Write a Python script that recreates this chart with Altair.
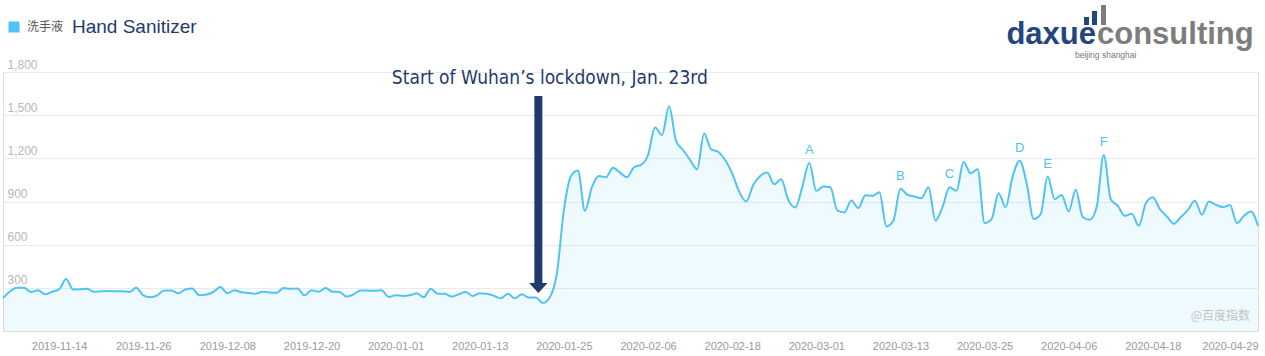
import altair as alt
import pandas as pd

# ---------------- data ----------------
start_date = "2019-11-06"
search_index = [
    228, 275, 300, 300, 271, 284, 255, 273, 289, 361,
    289, 290, 293, 273, 277, 278, 276, 277, 271, 300,
    248, 235, 248, 282, 282, 262, 289, 296, 248, 253,
    271, 305, 262, 284, 270, 264, 259, 273, 268, 266,
    298, 293, 296, 248, 284, 273, 298, 273, 271, 239,
    255, 282, 281, 280, 284, 237, 248, 244, 248, 262,
    235, 293, 259, 259, 239, 255, 271, 244, 262, 259,
    245, 228, 259, 228, 255, 232, 232, 195, 235, 400,
    840, 1075, 1115, 835, 1000, 1078, 1068, 1135, 1101, 1068,
    1138, 1154, 1223, 1415, 1362, 1562, 1322, 1258, 1188, 1124,
    1373, 1262, 1246, 1188, 1096, 969, 900, 1015, 1078, 1101,
    1020, 1055, 911, 858, 1000, 1170, 974, 1004, 999, 838,
    824, 907, 854, 944, 939, 965, 727, 768, 988, 946,
    935, 923, 999, 768, 861, 999, 974, 1175, 1096, 1124,
    750, 778, 958, 861, 1073, 1184, 1027, 778, 812, 1073,
    916, 946, 831, 981, 792, 773, 865, 1223, 916, 870,
    801, 815, 731, 888, 930, 847, 796, 745, 792, 842,
    905, 808, 900, 877, 861, 875, 750, 801, 831, 731,
]
dates = pd.date_range(start_date, periods=len(search_index)).strftime("%Y-%m-%d").tolist()
series_name = "洗手液"

x_tick_labels = [
    "2019-11-14", "2019-11-26", "2019-12-08", "2019-12-20", "2020-01-01",
    "2020-01-13", "2020-01-25", "2020-02-06", "2020-02-18", "2020-03-01",
    "2020-03-13", "2020-03-25", "2020-04-06", "2020-04-18", "2020-04-29",
]
y_ticks = [300, 600, 900, 1200, 1500, 1800]

peak_letters = ["A", "B", "C", "D", "E", "F"]
peak_dates = ["2020-02-29", "2020-03-13", "2020-03-20", "2020-03-30", "2020-04-03", "2020-04-11"]
peak_values = [search_index[dates.index(d)] for d in peak_dates]

annotation_text = "Start of Wuhan\u2019s lockdown, Jan. 23rd"
annotation_date = "2020-01-23"
annotation_value = 1717
arrow_date = "2020-01-21"
arrow_top = 1633
arrow_bottom = 327
arrow_head = 299

title_text = "Hand Sanitizer"
watermark_text = "@百度指数"
logo_left = "daxue"
logo_right = "consulting"
logo_sub = "beijing shanghai"

# ---------------- styles ----------------
LINE = "#4fc3f3"
NAVY = "#1f3a6b"
LOGO_BLUE = "#24457e"
GREY_LOGO = "#7d7d7d"

df = pd.DataFrame({"date": dates, "value": search_index, "series": series_name})
peaks = pd.DataFrame({"date": peak_dates, "value": peak_values, "letter": peak_letters})
arrow = pd.DataFrame({"date": [arrow_date], "top": [arrow_top], "bottom": [arrow_bottom], "head": [arrow_head]})
note = pd.DataFrame({"date": [annotation_date], "value": [annotation_value], "text": [annotation_text]})

x_enc = alt.X(
    "date:O",
    scale=alt.Scale(type="point", domain=dates, padding=0),
    axis=alt.Axis(
        values=x_tick_labels, title=None, labelAngle=0, domain=False, ticks=False,
        grid=False, labelColor="#9a9a9a", labelFontSize=11, labelPadding=9,
        labelFont="Liberation Sans", labelOverlap=False, labelBound=False,
    ),
)
y_scale = alt.Scale(domain=[0, 1800], nice=False, zero=True)
y_enc = alt.Y(
    "value:Q",
    scale=y_scale,
    axis=alt.Axis(
        values=y_ticks, title=None, orient="left", labelAlign="left",
        labelBaseline="bottom", labelPadding=-4, tickSize=0, ticks=False,
        domain=False, grid=True, gridColor="#e6ebf0", gridWidth=1,
        labelColor="#b8b8b8", labelFontSize=12, labelFont="Liberation Sans",
        format=",d", labelOffset=-1,
    ),
)

area = alt.Chart(df).mark_area(interpolate="monotone", fillOpacity=0.09).encode(
    x=x_enc,
    y=y_enc,
    fill=alt.Fill(
        "series:N",
        scale=alt.Scale(domain=[series_name], range=[LINE]),
        legend=alt.Legend(
            orient="none", legendX=5, legendY=-51, title=None, symbolType="square",
            symbolSize=121, symbolStrokeWidth=0, symbolOpacity=1, padding=0,
            labelFont="Noto Sans CJK SC", labelFontSize=12, labelColor="#555555",
            labelOffset=7,
        ),
    ),
)

line = alt.Chart(df).mark_line(interpolate="monotone", color=LINE, strokeWidth=2).encode(
    x="date:O", y="value:Q"
)

letters = alt.Chart(peaks).mark_text(
    color=LINE, fontSize=13, font="Liberation Sans", dy=-13, baseline="middle"
).encode(x="date:O", y="value:Q", text="letter:N")

shaft = alt.Chart(arrow).mark_rule(color=NAVY, strokeWidth=8, xOffset=2.5).encode(
    x="date:O", y="top:Q", y2="bottom:Q"
)
head = alt.Chart(arrow).mark_point(
    shape="M-1,-0.55L1,-0.55L0,0.55Z", filled=True, color=NAVY, opacity=1,
    size=340, xOffset=2.5, strokeWidth=0,
).encode(x="date:O", y=alt.Y("head:Q"))

note_text = alt.Chart(note).mark_text(
    color=NAVY, fontSize=19, font="DejaVu Sans Condensed",
    align="center", baseline="alphabetic",
).encode(x="date:O", y="value:Q", text="text:N")

one = pd.DataFrame({"k": [0]})

title = alt.Chart(one).mark_text(
    text=title_text, color=NAVY, fontSize=19, font="Liberation Sans",
    align="left", baseline="alphabetic",
).encode(x=alt.value(69), y=alt.value(-39))

watermark = alt.Chart(one).mark_text(
    text=watermark_text, color="#c4c4c4", fontSize=12, font="Noto Sans CJK SC",
    align="right", baseline="middle",
).encode(x=alt.value(1247), y=alt.value(244))

logo_a = alt.Chart(one).mark_text(
    text=logo_left, color=LOGO_BLUE, fontSize=31, font="Liberation Sans", fontWeight="bold",
    align="right", baseline="alphabetic",
).encode(x=alt.value(1093), y=alt.value(-28))
logo_b = alt.Chart(one).mark_text(
    text=logo_right, color=GREY_LOGO, fontSize=31, font="Liberation Sans", fontWeight="bold",
    align="left", baseline="alphabetic",
).encode(x=alt.value(1094), y=alt.value(-28))
logo_c = alt.Chart(one).mark_text(
    text=logo_sub, color="#777777", fontSize=8.5, font="Liberation Sans",
    align="left", baseline="alphabetic",
).encode(x=alt.value(1072), y=alt.value(-14))
bar1 = alt.Chart(one).mark_rect(color=LOGO_BLUE).encode(
    x=alt.value(1081), x2=alt.value(1086), y=alt.value(-55), y2=alt.value(-47))
bar2 = alt.Chart(one).mark_rect(color=LOGO_BLUE).encode(
    x=alt.value(1089), x2=alt.value(1094), y=alt.value(-61), y2=alt.value(-47))
bar3 = alt.Chart(one).mark_rect(color=GREY_LOGO).encode(
    x=alt.value(1098), x2=alt.value(1103), y=alt.value(-67), y2=alt.value(-47))

chart = alt.layer(
    area, line, letters, shaft, head, note_text,
    title, watermark, logo_a, logo_b, logo_c, bar1, bar2, bar3,
).properties(
    width=1255, height=259,
    autosize=alt.AutoSizeParams(type="none"),
    padding={"left": 3, "top": 72, "right": 7, "bottom": 25},
).configure_view(stroke=None).configure(background="white")

chart.save("out.html", embed_options={"renderer": "svg", "actions": False})
